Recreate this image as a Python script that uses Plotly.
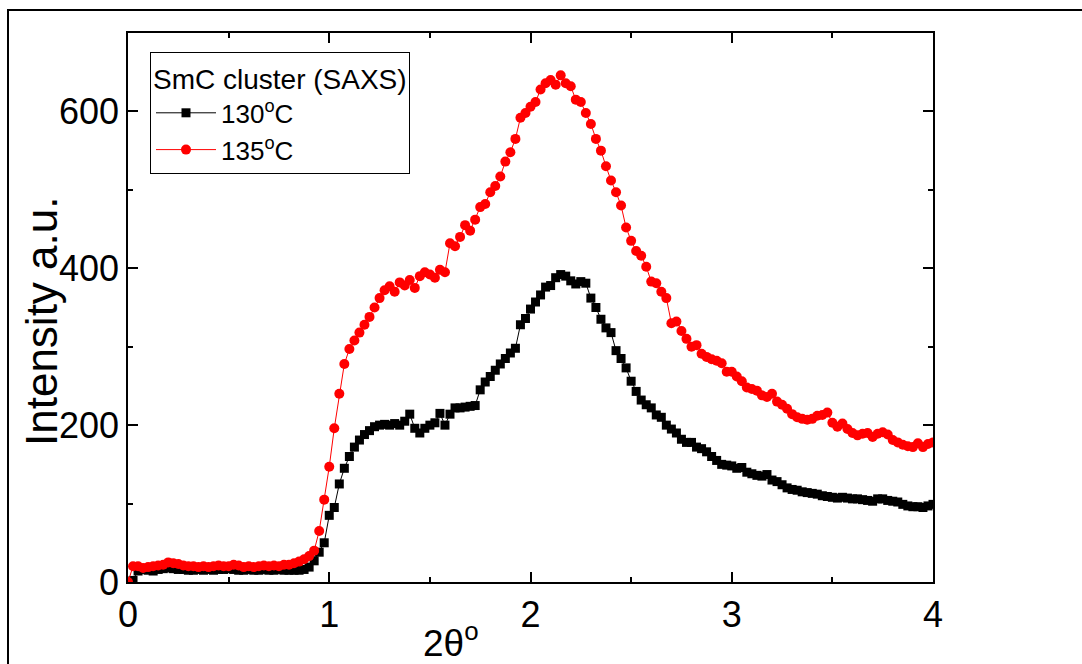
import plotly.graph_objects as go

two_theta = [0.000, 0.025, 0.050, 0.075, 0.100, 0.125, 0.150, 0.175, 0.200, 0.225,
             0.250, 0.275, 0.300, 0.325, 0.350, 0.375, 0.400, 0.425, 0.450, 0.475,
             0.500, 0.525, 0.550, 0.575, 0.600, 0.625, 0.650, 0.675, 0.700, 0.725,
             0.750, 0.775, 0.800, 0.825, 0.850, 0.875, 0.900, 0.925, 0.950, 0.975,
             1.000, 1.025, 1.050, 1.075, 1.100, 1.125, 1.150, 1.175, 1.200, 1.225,
             1.250, 1.275, 1.300, 1.325, 1.350, 1.375, 1.400, 1.425, 1.450, 1.475,
             1.500, 1.525, 1.550, 1.575, 1.600, 1.625, 1.650, 1.675, 1.700, 1.725,
             1.750, 1.775, 1.800, 1.825, 1.850, 1.875, 1.900, 1.925, 1.950, 1.975,
             2.000, 2.025, 2.050, 2.075, 2.100, 2.125, 2.150, 2.175, 2.200, 2.225,
             2.250, 2.275, 2.300, 2.325, 2.350, 2.375, 2.400, 2.425, 2.450, 2.475,
             2.500, 2.525, 2.550, 2.575, 2.600, 2.625, 2.650, 2.675, 2.700, 2.725,
             2.750, 2.775, 2.800, 2.825, 2.850, 2.875, 2.900, 2.925, 2.950, 2.975,
             3.000, 3.025, 3.050, 3.075, 3.100, 3.125, 3.150, 3.175, 3.200, 3.225,
             3.250, 3.275, 3.300, 3.325, 3.350, 3.375, 3.400, 3.425, 3.450, 3.475,
             3.500, 3.525, 3.550, 3.575, 3.600, 3.625, 3.650, 3.675, 3.700, 3.725,
             3.750, 3.775, 3.800, 3.825, 3.850, 3.875, 3.900, 3.925, 3.950, 3.975,
             4.000]

intensity_130 = [None, 2, 14, 16, 15, 14, 16, 17, 18, 17,
                 16, 16, 15, 15, 16, 15, 16, 15, 16, 16,
                 17, 16, 15, 15, 16, 15, 15, 16, 15, 15,
                 16, 15, 15, 15, 15, 16, 19, 27, 38, 50,
                 85, 95, 125, 145, 160, 172, 181, 188, 193, 198,
                 200, 201, 200, 202, 200, 205, 214, 196, 190, 196,
                 200, 203, 215, 200, 214, 222, 222, 223, 224, 225,
                 245, 255, 262, 270, 278, 285, 292, 298, 328, 336,
                 348, 357, 366, 376, 378, 388, 392, 390, 384, 380,
                 383, 381, 362, 350, 335, 324, 318, 295, 285, 273,
                 256, 243, 232, 226, 222, 213, 210, 200, 195, 190,
                 182, 178, 178, 172, 170, 166, 160, 155, 150, 149,
                 148, 145, 146, 140, 138, 136, 135, 137, 130, 128,
                 124, 120, 118, 117, 115, 114, 113, 112, 110, 109,
                 108, 107, 108, 107, 106, 106, 105, 104, 103, 106,
                 106, 104, 103, 102, 99, 97, 96, 96, 95, 97,
                 99]

intensity_135 = [0, 20, 20, 18, 19, 20, 21, 22, 25, 24,
                 23, 21, 20, 20, 19, 20, 19, 20, 21, 20,
                 20, 22, 21, 19, 20, 19, 20, 21, 20, 21,
                 20, 22, 22, 24, 26, 29, 33, 40, 65, 105,
                 147, 196, 240, 278, 297, 308, 318, 328, 338, 350,
                 362, 372, 377, 370, 382, 378, 385, 375, 390, 395,
                 392, 388, 398, 395, 432, 428, 440, 455, 448, 462,
                 478, 482, 497, 505, 517, 536, 548, 565, 592, 598,
                 606, 612, 628, 636, 640, 634, 646, 636, 632, 615,
                 612, 598, 584, 565, 550, 530, 512, 497, 480, 452,
                 435, 422, 416, 402, 383, 381, 370, 362, 330, 332,
                 320, 310, 300, 302, 291, 287, 284, 282, 279, 268,
                 268, 262, 256, 248, 246, 244, 238, 236, 240, 230,
                 226, 221, 214, 210, 208, 207, 208, 212, 213, 216,
                 203, 198, 202, 195, 190, 187, 189, 190, 185, 189,
                 191, 188, 181, 178, 175, 173, 172, 177, 172, 176,
                 178]

series_names = ["130<sup>o</sup>C", "135<sup>o</sup>C"]
x_ticks = [0, 1, 2, 3, 4]
y_ticks = [0, 200, 400, 600]

FONT = "Arial, Liberation Sans, sans-serif"

fig = go.Figure()
fig.add_trace(go.Scatter(
    x=two_theta, y=intensity_130, mode="lines+markers", name=series_names[0],
    line=dict(color="black", width=1),
    marker=dict(symbol="square", size=9, color="black"),
))
fig.add_trace(go.Scatter(
    x=two_theta, y=intensity_135, mode="lines+markers", name=series_names[1],
    line=dict(color="#ff0000", width=1),
    marker=dict(symbol="circle", size=10, color="#ff0000"),
))

axis_common = dict(
    showline=True, linecolor="black", linewidth=1.5, mirror="ticks",
    ticks="inside", ticklen=10, tickwidth=1.5, tickcolor="black",
    showgrid=False, zeroline=False,
    tickfont=dict(family=FONT, size=36, color="black"),
)

fig.update_xaxes(
    range=[0, 4], tickvals=x_ticks, ticktext=[str(v) for v in x_ticks],
    minor=dict(ticks="inside", ticklen=5, dtick=0.5, tickwidth=1.5, tickcolor="black"),
    ticklabelstandoff=0,
    **axis_common,
)
fig.update_yaxes(
    range=[0, 700], tickvals=y_ticks, ticktext=[str(v) for v in y_ticks],
    minor=dict(ticks="inside", ticklen=5, dtick=100, tickwidth=1.5, tickcolor="black"),
    **axis_common,
)

fig.add_annotation(
    text="2θ<sup>o</sup>", xref="paper", yref="paper", x=(451 - 128) / 805, y=(582 - 640) / 549,
    showarrow=False, font=dict(family=FONT, size=37, color="black"),
    xanchor="center", yanchor="middle",
)
fig.add_annotation(
    text="Intensity a.u.", xref="paper", yref="paper", x=(41 - 128) / 805, y=(582 - 322) / 549,
    showarrow=False, textangle=-90, font=dict(family=FONT, size=44, color="black"),
    xanchor="center", yanchor="middle",
)

# outer frame
fig.add_shape(
    type="rect", xref="paper", yref="paper",
    x0=(8 - 128) / 805, x1=(1090 - 128) / 805,
    y0=(582 - 680) / 549, y1=(582 - 10) / 549,
    line=dict(color="black", width=2), fillcolor="rgba(0,0,0,0)", layer="above",
)

fig.update_layout(
    width=1082, height=664,
    margin=dict(l=128, r=149, t=33, b=82),
    paper_bgcolor="white", plot_bgcolor="white",
    font=dict(family=FONT, color="black"),
    showlegend=True,
    legend=dict(
        title=dict(text="SmC cluster (SAXS)", font=dict(family=FONT, size=28, color="black")),
        font=dict(family=FONT, size=26, color="black"),
        x=(150 - 128) / 805, y=(582 - 52) / 549, xanchor="left", yanchor="top",
        bordercolor="black", borderwidth=1, bgcolor="white",
        tracegroupgap=0, itemwidth=60,
    ),
)

fig.write_html("out.html")
